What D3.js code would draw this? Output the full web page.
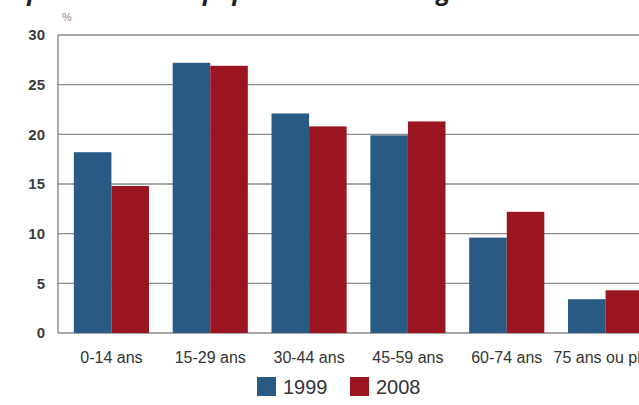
<!DOCTYPE html>
<html>
<head>
<meta charset="utf-8">
<script src="https://cdn.jsdelivr.net/npm/d3@7"></script>
<style>
  html, body { margin: 0; padding: 0; background: #fff; }
  svg { display: block; }
</style>
</head>
<body>
<svg id="chart" width="639" height="405"></svg>
<script>
// Age groups and shares of population (%) for the two census years
const categories = ["0-14 ans", "15-29 ans", "30-44 ans", "45-59 ans", "60-74 ans", "75 ans ou plus"];
const years = ["1999", "2008"];
const values1999 = [18.2, 27.2, 22.1, 19.9, 9.6, 3.4];
const values2008 = [14.8, 26.9, 20.8, 21.3, 12.2, 4.3];
const yTicks = [0, 5, 10, 15, 20, 25, 30];
const colors = ["#285a84", "#9a1520"];
const title = "Répartition de la population selon l'âge";

const seriesByYear = { "1999": values1999, "2008": values2008 };
const rows = categories.map((c, i) => ({
  category: c,
  values: years.map(y => ({ year: y, value: seriesByYear[y][i] }))
}));

const svg = d3.select("#chart");
const W = 639;
const axisX = 58;

const x0 = d3.scaleBand().domain(categories).range([62, 655]).paddingInner(0.24).paddingOuter(0.12);
const x1 = d3.scaleBand().domain(years).range([0, x0.bandwidth()]);
const y = d3.scaleLinear().domain([0, 30]).range([333, 35]);
const color = d3.scaleOrdinal().domain(years).range(colors);

// Title line (sits above the page edge, only descenders show)
svg.append("text")
  .attr("x", -2).attr("y", 0)
  .attr("font-family", "Open Sans, sans-serif")
  .attr("font-size", 25).attr("font-weight", "bold").attr("font-style", "italic")
  .attr("fill", "#222")
  .text(title);

// Horizontal gridlines
svg.append("g")
  .selectAll("line")
  .data(yTicks)
  .join("line")
  .attr("x1", axisX).attr("x2", W)
  .attr("y1", d => y(d)).attr("y2", d => y(d))
  .attr("stroke", "#8a8a8a").attr("stroke-width", 1.4);

// Vertical axis line
svg.append("line")
  .attr("x1", axisX).attr("x2", axisX)
  .attr("y1", y(30)).attr("y2", y(0))
  .attr("stroke", "#8a8a8a").attr("stroke-width", 1.4);

// Tick labels
svg.append("g")
  .selectAll("text")
  .data(yTicks)
  .join("text")
  .attr("x", 45).attr("y", d => y(d))
  .attr("dy", "0.35em")
  .attr("text-anchor", "end")
  .attr("font-family", "Liberation Sans, Arial, sans-serif")
  .attr("font-size", 15).attr("font-weight", "bold")
  .attr("fill", "#3c3c3c")
  .text(d => d);

// Unit label
svg.append("text")
  .attr("x", 62).attr("y", 21)
  .attr("font-family", "Liberation Sans, Arial, sans-serif")
  .attr("font-size", 11)
  .attr("fill", "#888")
  .text("%");

// Bars
svg.append("g")
  .selectAll("g")
  .data(rows)
  .join("g")
  .attr("transform", d => `translate(${x0(d.category)},0)`)
  .selectAll("rect")
  .data(d => d.values)
  .join("rect")
  .attr("x", d => x1(d.year))
  .attr("width", x1.bandwidth())
  .attr("y", d => y(d.value))
  .attr("height", d => y(0) - y(d.value))
  .attr("fill", d => color(d.year));

// Category labels
svg.append("g")
  .selectAll("text")
  .data(categories)
  .join("text")
  .attr("x", d => x0(d) + x0.bandwidth() / 2)
  .attr("y", 363)
  .attr("text-anchor", "middle")
  .attr("font-family", "Liberation Sans, Arial, sans-serif")
  .attr("font-size", 16)
  .attr("fill", "#333")
  .text(d => d);

// Legend
const legend = svg.append("g")
  .selectAll("g")
  .data(years)
  .join("g")
  .attr("transform", (d, i) => `translate(${257 + i * 93},377)`);
legend.append("rect")
  .attr("width", 19).attr("height", 19)
  .attr("fill", d => color(d));
legend.append("text")
  .attr("x", 26).attr("y", 17)
  .attr("font-family", "Liberation Sans, Arial, sans-serif")
  .attr("font-size", 20)
  .attr("fill", "#333")
  .text(d => d);
</script>
</body>
</html>
